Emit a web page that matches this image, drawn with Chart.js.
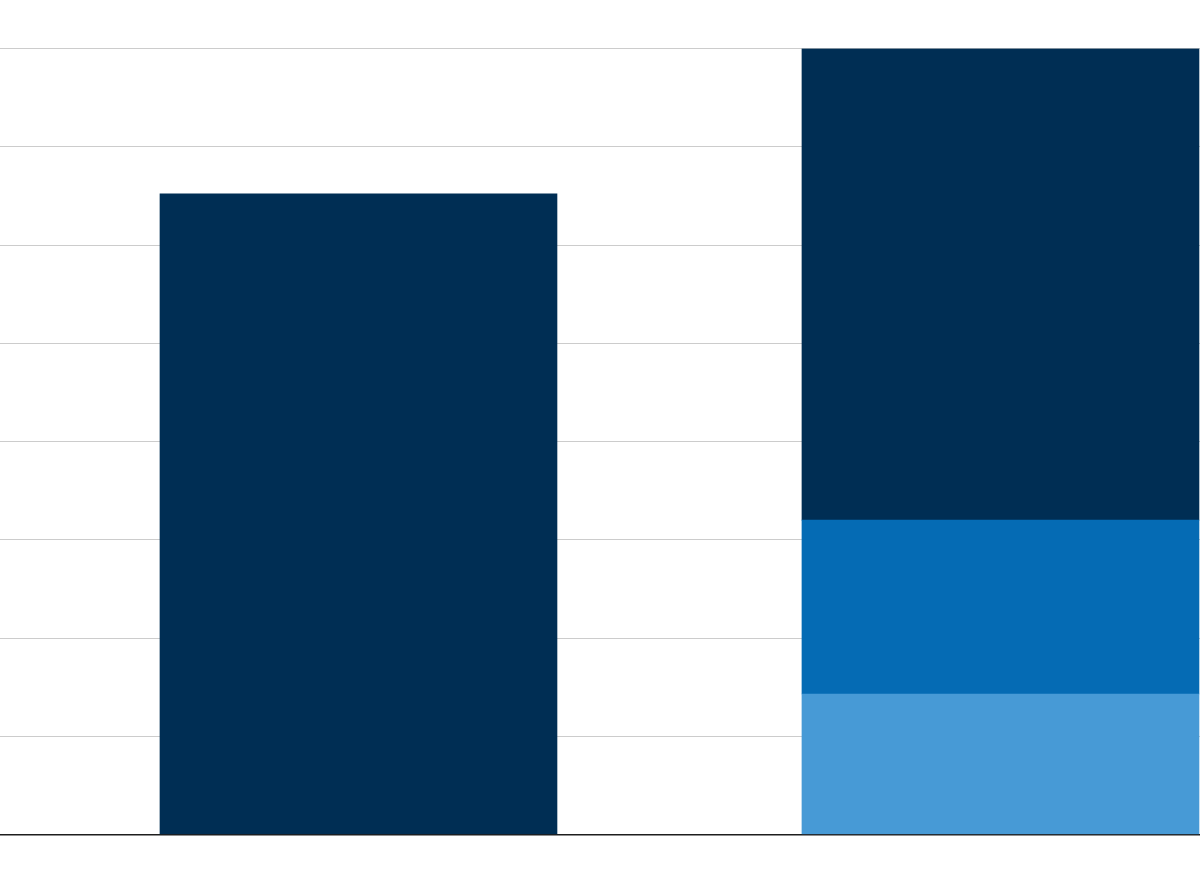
<!DOCTYPE html>
<html>
<head>
<meta charset="utf-8">
<script src="https://cdn.jsdelivr.net/npm/chart.js@4"></script>
<style>
  html, body { margin: 0; padding: 0; background: #fff; }
  #wrap { width: 1200px; height: 894px; position: relative; }
</style>
</head>
<body>
<div id="wrap"><canvas id="chart"></canvas></div>
<script>
// two columns, the second one is a stack of three parts
const positions = [0, 1];
const lightValues = [null, 1.43];
const mediumValues = [null, 1.77];
const darkValues = [6.52, 4.8];
const yTicks = [0, 1, 2, 3, 4, 5, 6, 7, 8];

function toPoints(vals){
    return positions.map((x, i) => ({ x: x, y: vals[i] }));
}

document.addEventListener('DOMContentLoaded', function(){
    const ctx = document.getElementById('chart');
    new Chart(ctx, {
        type: 'bar',
        data: {
            datasets: [
                { label: 'light', data: toPoints(lightValues), backgroundColor: '#479ad6' },
                { label: 'medium', data: toPoints(mediumValues), backgroundColor: '#056bb4' },
                { label: 'dark', data: toPoints(darkValues), backgroundColor: '#002e54' }
            ]
        },
        options: {
            responsive: true,
            maintainAspectRatio: false,
            animation: false,
            layout: { padding: { top: 48.5, bottom: 59.5, left: 0, right: 0 } },
            datasets: { bar: { barThickness: 397, borderWidth: 0 } },
            plugins: { legend: { display: false }, tooltip: { enabled: false } },
            scales: {
                x: {
                    type: 'linear',
                    stacked: true,
                    min: -0.5584,
                    max: 1.3108,
                    offset: false,
                    ticks: { display: false },
                    grid: { display: false, drawTicks: false },
                    border: { display: true, color: '#1e1e1e', width: 1.5 }
                },
                y: {
                    stacked: true,
                    min: yTicks[0],
                    max: yTicks[yTicks.length - 1],
                    afterBuildTicks: function(scale){ scale.ticks = yTicks.map(v => ({ value: v })); },
                    ticks: { display: false },
                    grid: { color: '#cccccc', lineWidth: 1, drawTicks: false },
                    border: { display: false }
                }
            }
        }
    });
});
</script>
</body>
</html>
